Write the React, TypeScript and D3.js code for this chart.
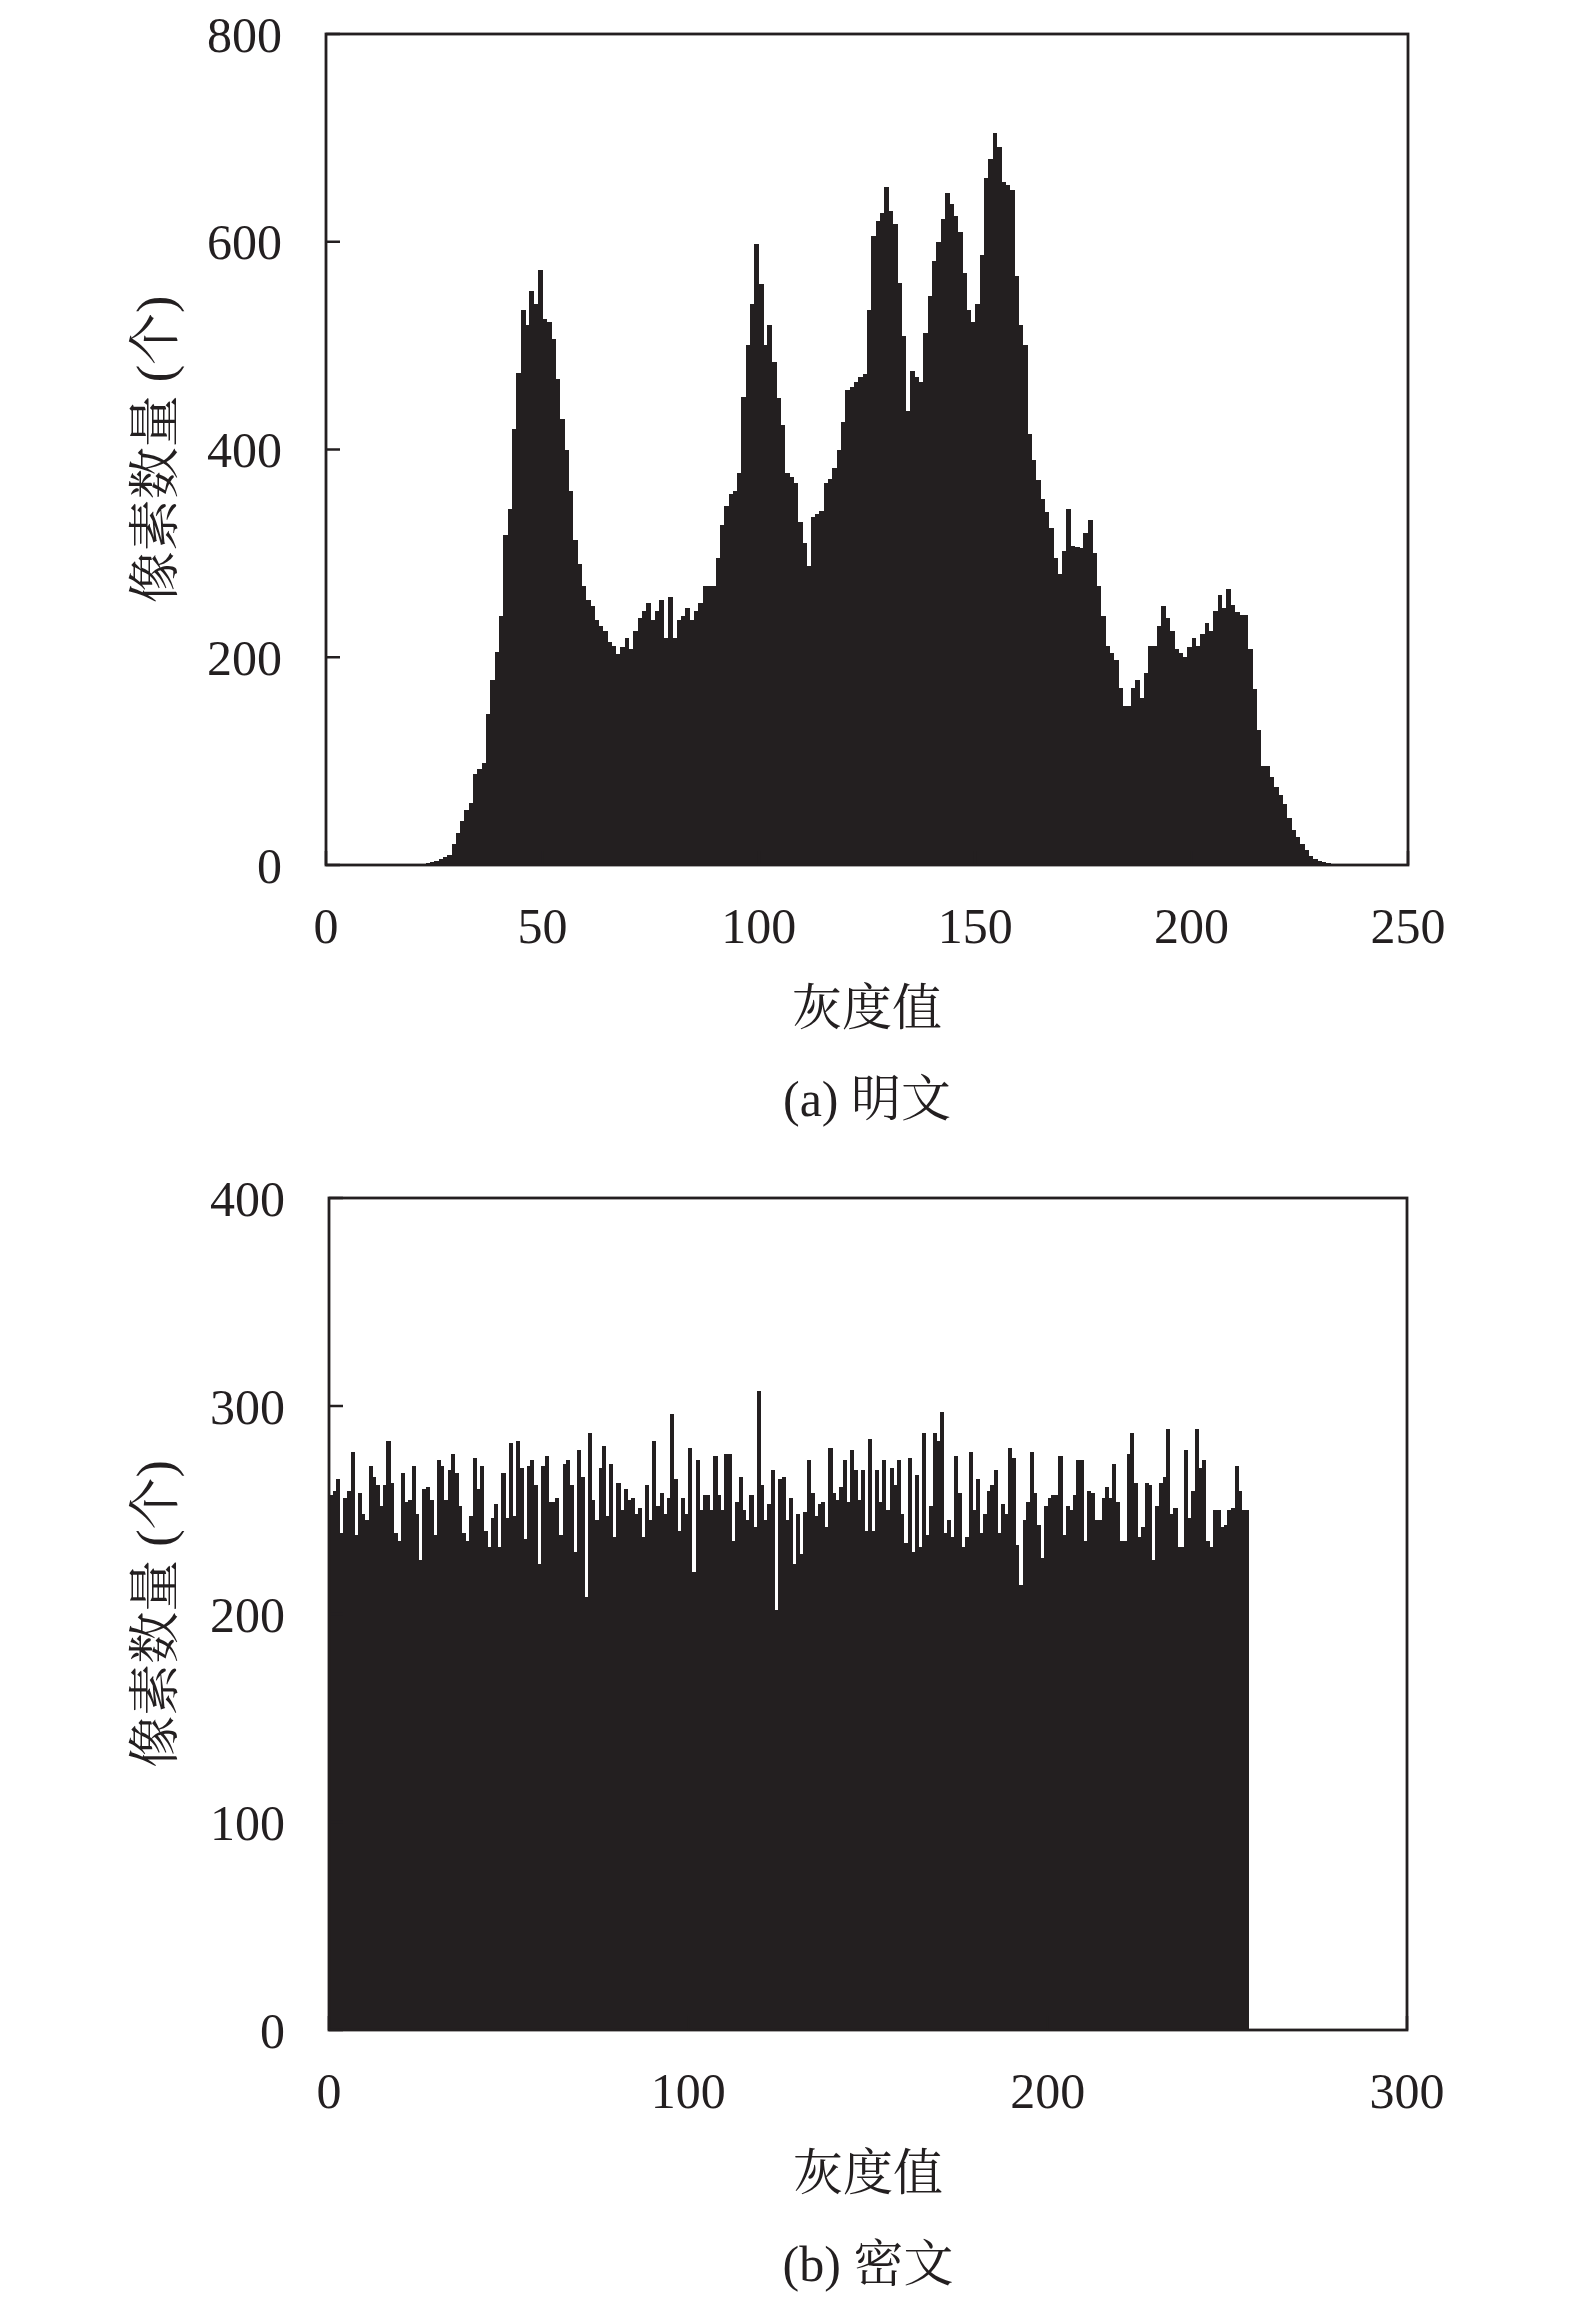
import React, { useEffect, useRef } from 'react';
import * as d3 from 'd3';

// gray level histogram of the plain image, levels 0..255
const plainCounts = [
  0, 0, 0, 0, 0, 0, 0, 0, 0, 0, 0, 0, 0, 0, 0, 0, 0, 0, 0, 0,
  0, 1, 1, 2, 3, 4, 6, 8, 10, 20, 31, 42, 53, 60, 88, 92, 98, 145, 178, 205,
  240, 318, 343, 420, 474, 534, 520, 553, 540, 573, 526, 523, 506, 468, 429, 400, 360, 313, 290, 269,
  255, 249, 236, 230, 225, 215, 211, 203, 210, 219, 208, 225, 238, 245, 252, 236, 245, 255, 219, 258,
  219, 236, 240, 247, 236, 245, 252, 269, 269, 269, 296, 327, 346, 357, 360, 377, 451, 501, 540, 598,
  559, 501, 520, 484, 450, 424, 377, 374, 368, 330, 310, 288, 335, 338, 341, 368, 372, 382, 400, 426,
  457, 460, 465, 470, 473, 534, 606, 620, 628, 653, 630, 617, 560, 509, 437, 476, 470, 465, 512, 548,
  581, 600, 622, 647, 636, 625, 609, 570, 534, 523, 540, 587, 661, 680, 705, 691, 658, 655, 650, 567,
  520, 501, 415, 390, 371, 352, 340, 324, 296, 280, 302, 343, 307, 306, 305, 320, 332, 300, 269, 240,
  211, 204, 197, 170, 153, 153, 170, 178, 161, 185, 211, 211, 230, 249, 238, 225, 208, 204, 200, 210,
  219, 211, 222, 233, 225, 245, 260, 247, 266, 250, 244, 241, 241, 208, 169, 130, 95, 95, 85, 75,
  67, 59, 45, 34, 27, 20, 14, 9, 6, 4, 3, 2, 1, 0, 0, 0, 0, 0, 0, 0,
  0, 0, 0, 0, 0, 0, 0, 0, 0, 0, 0, 0, 0, 0, 0, 0,
];

// gray level histogram of the cipher image, levels 0..255
const cipherCounts = [
  257, 259, 265, 239, 256, 259, 278, 238, 258, 248, 245, 271, 266, 262, 252, 262, 283, 263, 239, 235,
  268, 254, 255, 271, 248, 226, 260, 261, 255, 238, 274, 271, 255, 269, 277, 268, 252, 239, 235, 247,
  275, 260, 271, 240, 232, 246, 253, 232, 268, 246, 282, 247, 283, 270, 236, 271, 274, 262, 224, 271,
  276, 254, 254, 256, 238, 272, 274, 262, 230, 279, 266, 208, 287, 255, 245, 270, 281, 247, 272, 237,
  263, 250, 260, 255, 256,
  248, 251, 237, 262, 245, 283, 252, 258, 248, 256, 296, 265, 240, 256, 248, 280, 220, 274, 250,
  257, 257, 250, 276, 257, 250, 277, 277, 235, 254, 266, 250, 245, 257, 242, 307, 262, 245, 253, 269,
  202, 265, 266, 245, 256, 224, 248, 229, 249, 274, 258, 247, 253, 254, 242, 280, 258, 255, 261, 274,
  254, 279, 269, 255, 269, 240, 284, 240, 269, 254, 274, 250, 270, 262, 274, 248, 234, 275, 230, 267,
  232, 287, 238, 252, 287, 283,
  297, 239, 245, 237, 276, 258, 232, 237, 278, 250, 265, 239, 248, 259, 262, 269, 239, 253, 248, 280,
  275, 233, 214, 245, 254, 278, 258, 243, 227, 252, 256, 257, 257, 276, 238, 252, 250, 257, 274, 274,
  235, 259, 258, 245, 245, 256, 261, 256, 272, 254, 235, 235, 277, 287, 263, 237, 242, 263, 262, 226,
  252, 263, 266, 289, 248, 251, 232, 232, 279, 246, 259, 289, 270, 274, 235, 232, 250, 250, 242, 243,
  250, 251, 271, 259, 250, 250,
];

const plainXTicks = [0, 50, 100, 150, 200, 250];
const plainYTicks = [0, 200, 400, 600, 800];
const cipherXTicks = [0, 100, 200, 300];
const cipherYTicks = [0, 100, 200, 300, 400];

const ink = '#231f20';
const fontFamily = "'Times New Roman', 'Liberation Serif', 'Noto Serif CJK SC', 'Noto Sans CJK SC', serif";

const App: React.FC = () => {
  const svgRef = useRef<SVGSVGElement | null>(null);

  useEffect(() => {
    const svg = d3.select(svgRef.current);
    svg.selectAll('*').remove();

    const drawPanel = (opts: {
      counts: number[];
      xMax: number;
      yMax: number;
      xTicks: number[];
      yTicks: number[];
      left: number;
      right: number;
      top: number;
      bottom: number;
      caption: string;
    }) => {
      const { counts, xMax, yMax, xTicks, yTicks, left, right, top, bottom, caption } = opts;
      const x = d3.scaleLinear().domain([0, xMax]).range([left, right]);
      const y = d3.scaleLinear().domain([0, yMax]).range([bottom, top]);
      const g = svg.append('g');

      g.selectAll('rect.bar')
        .data(counts)
        .enter()
        .append('rect')
        .attr('class', 'bar')
        .attr('x', (_, i) => x(i))
        .attr('width', x(1) - x(0) + 0.5)
        .attr('y', d => y(d))
        .attr('height', d => y(0) - y(d))
        .attr('fill', ink)
        .attr('shape-rendering', 'crispEdges');

      // ticks point into the plot
      g.selectAll('line.ytick')
        .data(yTicks)
        .enter()
        .append('line')
        .attr('x1', left)
        .attr('x2', left + 14)
        .attr('y1', d => y(d))
        .attr('y2', d => y(d))
        .attr('stroke', ink)
        .attr('stroke-width', 2.5);

      g.selectAll('line.xtick')
        .data(xTicks)
        .enter()
        .append('line')
        .attr('x1', d => x(d))
        .attr('x2', d => x(d))
        .attr('y1', bottom)
        .attr('y2', bottom - 14)
        .attr('stroke', ink)
        .attr('stroke-width', 2.5);

      g.append('rect')
        .attr('x', left)
        .attr('y', top)
        .attr('width', right - left)
        .attr('height', bottom - top)
        .attr('fill', 'none')
        .attr('stroke', ink)
        .attr('stroke-width', 2.8);

      g.selectAll('text.ylab')
        .data(yTicks)
        .enter()
        .append('text')
        .attr('x', left - 44)
        .attr('y', d => y(d))
        .attr('dy', '0.35em')
        .attr('text-anchor', 'end')
        .attr('font-size', 50)
        .attr('font-family', fontFamily)
        .attr('fill', ink)
        .text(d => d);

      g.selectAll('text.xlab')
        .data(xTicks)
        .enter()
        .append('text')
        .attr('x', d => x(d))
        .attr('y', bottom + 60)
        .attr('dy', '0.35em')
        .attr('text-anchor', 'middle')
        .attr('font-size', 50)
        .attr('font-family', fontFamily)
        .attr('fill', ink)
        .text(d => d);

      const cx = (left + right) / 2;
      g.append('text')
        .attr('x', cx)
        .attr('y', bottom + 142)
        .attr('dy', '0.35em')
        .attr('text-anchor', 'middle')
        .attr('font-size', 50)
        .attr('font-family', fontFamily)
        .attr('fill', ink)
        .text('灰度值');

      g.append('text')
        .attr('x', cx)
        .attr('y', bottom + 233)
        .attr('dy', '0.35em')
        .attr('text-anchor', 'middle')
        .attr('font-size', 50)
        .attr('font-family', fontFamily)
        .attr('fill', ink)
        .text(caption);

      g.append('text')
        .attr('transform', `translate(155,${(top + bottom) / 2}) rotate(-90)`)
        .attr('dy', '0.35em')
        .attr('text-anchor', 'middle')
        .attr('font-size', 52)
        .attr('font-family', fontFamily)
        .attr('fill', ink)
        .text('像素数量 (个)');
    };

    drawPanel({
      counts: plainCounts,
      xMax: 250,
      yMax: 800,
      xTicks: plainXTicks,
      yTicks: plainYTicks,
      left: 326,
      right: 1408,
      top: 34,
      bottom: 865,
      caption: '(a) 明文',
    });

    drawPanel({
      counts: cipherCounts,
      xMax: 300,
      yMax: 400,
      xTicks: cipherXTicks,
      yTicks: cipherYTicks,
      left: 329,
      right: 1407,
      top: 1198,
      bottom: 2030,
      caption: '(b) 密文',
    });
  }, []);

  return (
    <div style={{ position: 'absolute', left: 0, top: 0 }}>
      <svg ref={svgRef} width={1575} height={2302} style={{ display: 'block', background: '#fff' }}></svg>
    </div>
  );
};

export default App;
